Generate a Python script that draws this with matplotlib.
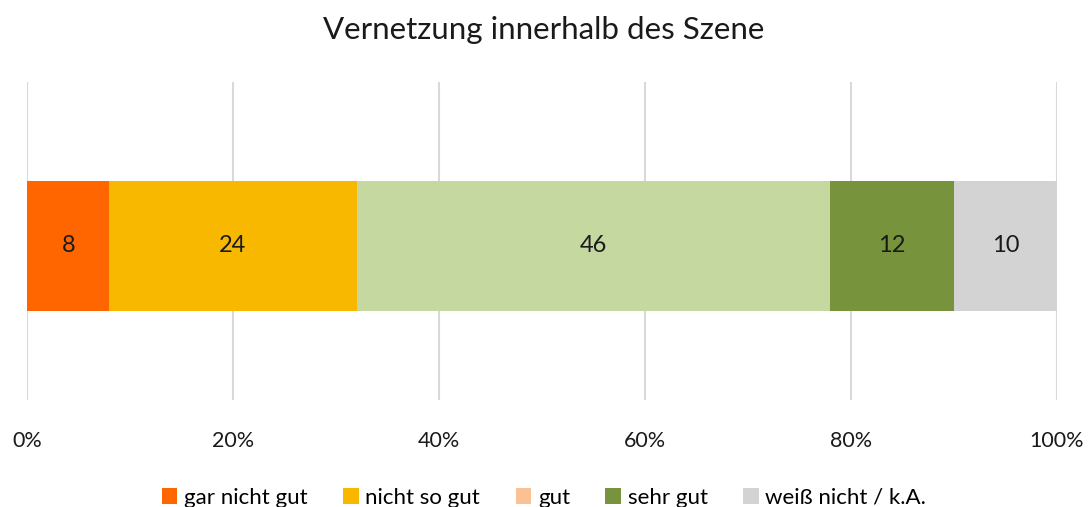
import matplotlib.pyplot as plt
from matplotlib.patches import Patch

plt.rcParams['font.family'] = ['Lato', 'DejaVu Sans']

# data
categories = ["gar nicht gut", "nicht so gut", "gut", "sehr gut", "weiß nicht / k.A."]
values = [8, 24, 46, 12, 10]
bar_colors = ["#FF6600", "#F9B800", "#C5D89F", "#77933C", "#D3D3D3"]
legend_colors = ["#FF6600", "#F9B800", "#F8C196", "#77933C", "#D3D3D3"]
xticks = [0, 20, 40, 60, 80, 100]
xtick_labels = ["0%", "20%", "40%", "60%", "80%", "100%"]

fig = plt.figure(figsize=(10.88, 5.07), dpi=100)
ax = fig.add_axes([27 / 1088, 1 - 400 / 507, 1030 / 1088, 318 / 507])

left = 0
for val, col in zip(values, bar_colors):
    ax.barh(0, val, left=left, height=0.41, color=col, zorder=2)
    ax.text(left + val / 2, 0, str(val), ha='center', va='center', fontsize=17, color='#1a1a1a', zorder=3)
    left += val

ax.set_xlim(0, 100)
ax.set_ylim(-0.485, 0.515)
ax.set_xticks(xticks)
ax.set_xticklabels(xtick_labels, fontsize=15.5, color='#1a1a1a')
ax.tick_params(axis='x', length=0, pad=22)
ax.set_yticks([])
ax.grid(axis='x', color='#D9D9D9', linewidth=1.5, zorder=0)
for s in ax.spines.values():
    s.set_visible(False)

fig.suptitle("Vernetzung innerhalb des Szene", fontsize=22.5, color='#1a1a1a', y=1 - 30 / 507, va='center')

handles = [Patch(facecolor=c, label=l) for c, l in zip(legend_colors, categories)]
fig.legend(handles=handles, loc='center', bbox_to_anchor=(0.5, 1 - 498 / 507), ncol=5,
           frameon=False, fontsize=16, handlelength=0.7, handleheight=0.7,
           handletextpad=0.3, columnspacing=1.6)

fig.savefig("out.png", dpi=100)
